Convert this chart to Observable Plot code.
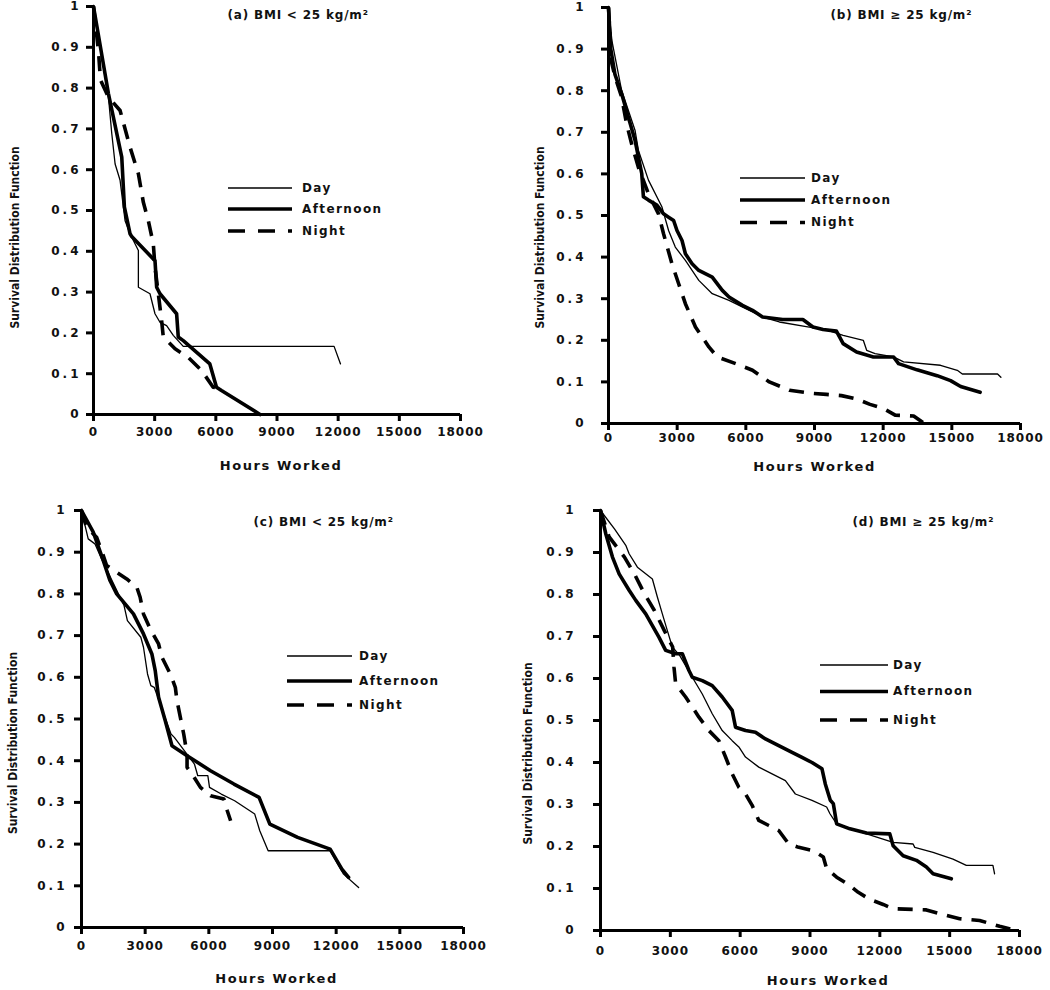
<!DOCTYPE html>
<html><head><meta charset="utf-8">
<script src="https://cdn.jsdelivr.net/npm/d3@7"></script>
<script src="https://cdn.jsdelivr.net/npm/@observablehq/plot@0.6"></script>
<style>
html,body{margin:0;padding:0;background:#fff;}
body{width:1050px;height:990px;position:relative;overflow:hidden;}
.panel{position:absolute;}
.panel svg [aria-label="x-axis tick label"] text{font-weight:bold;letter-spacing:1px;}
.panel svg [aria-label="y-axis tick label"] text{font-weight:bold;letter-spacing:3px;}
</style></head><body>
<div id="pa" class="panel"></div>
<div id="pb" class="panel"></div>
<div id="pc" class="panel"></div>
<div id="pd" class="panel"></div>
<script>
// ---------- data ----------
const shifts = ["Day", "Afternoon", "Night"];
const xTicks = [0, 3000, 6000, 9000, 12000, 15000, 18000];
const yTicks = [0, 0.1, 0.2, 0.3, 0.4, 0.5, 0.6, 0.7, 0.8, 0.9, 1];
const yTickLabels = ["0", "0.1", "0.2", "0.3", "0.4", "0.5", "0.6", "0.7", "0.8", "0.9", "1"];
const panelTitles = ["(a) BMI < 25 kg/m²", "(b) BMI ≥ 25 kg/m²", "(c) BMI < 25 kg/m²", "(d) BMI ≥ 25 kg/m²"];
const xLabel = "Hours Worked";
const yLabel = "Survival Distribution Function";

// [hours worked, survival]
const aDay = [[0,1],[734,0.778],[897,0.688],[1060,0.614],[1304,0.574],[1549,0.475],[1793,0.443],[2201,0.402],[2201,0.312],[2771,0.296],[3016,0.247],[3260,0.226],[3586,0.218],[3913,0.194],[4402,0.167],[11800,0.167],[12115,0.124]];
const aAfternoon = [[0,1],[734,0.786],[1386,0.631],[1516,0.508],[1793,0.443],[1875,0.436],[3016,0.377],[3097,0.312],[3260,0.296],[4076,0.247],[4157,0.19],[4402,0.181],[5706,0.124],[6032,0.067],[6276,0.059],[8168,0]];
const aNight = [[0,1],[245,0.89],[340,0.82],[734,0.778],[1304,0.745],[1793,0.655],[2201,0.59],[2445,0.52],[2690,0.475],[2934,0.418],[3016,0.361],[3179,0.296],[3342,0.23],[3423,0.19],[4000,0.161],[4646,0.14],[5297,0.108],[5868,0.067],[6211,0.064]];

const bDay = [[0,1],[150,0.92],[572,0.801],[1158,0.705],[1305,0.657],[1745,0.585],[2332,0.521],[2625,0.464],[2918,0.424],[3359,0.392],[3945,0.344],[4532,0.312],[5265,0.296],[5998,0.276],[6732,0.256],[7465,0.244],[8638,0.233],[9518,0.225],[10252,0.212],[11132,0.2],[11279,0.176],[11646,0.168],[12452,0.16],[12892,0.148],[14505,0.14],[15238,0.128],[15458,0.119],[16998,0.119],[17144,0.111]];
const bAfternoon = [[0,1],[100,0.9],[279,0.84],[572,0.793],[865,0.737],[1158,0.681],[1305,0.641],[1452,0.601],[1525,0.545],[1745,0.537],[2112,0.525],[2405,0.504],[2625,0.496],[2845,0.488],[2992,0.464],[3212,0.44],[3359,0.408],[3652,0.384],[3945,0.368],[4532,0.352],[4972,0.32],[5265,0.304],[5852,0.284],[6292,0.272],[6732,0.256],[7612,0.25],[8492,0.25],[8932,0.232],[9372,0.226],[9958,0.222],[10252,0.192],[10838,0.172],[11572,0.16],[12452,0.16],[12672,0.144],[13478,0.129],[14358,0.115],[14945,0.103],[15385,0.089],[16236,0.075]];
const bNight = [[0,1],[100,0.9],[147,0.865],[293,0.832],[572,0.785],[792,0.72],[1012,0.672],[1305,0.616],[1745,0.552],[2185,0.504],[2405,0.456],[2772,0.384],[3065,0.336],[3359,0.288],[3799,0.232],[4385,0.184],[4752,0.16],[5558,0.144],[6292,0.128],[7025,0.1],[7905,0.08],[8785,0.073],[9518,0.07],[10178,0.067],[10838,0.059],[11425,0.046],[12012,0.036],[12525,0.02],[13332,0.018],[13800,0]];

const cDay = [[0,1],[316,0.932],[632,0.92],[947,0.884],[1816,0.792],[2005,0.772],[2163,0.736],[2795,0.696],[2921,0.672],[3111,0.608],[3268,0.58],[3426,0.576],[4216,0.464],[4374,0.456],[5321,0.392],[5479,0.364],[5953,0.364],[6032,0.336],[6584,0.32],[7216,0.304],[8163,0.272],[8400,0.232],[8795,0.184],[11716,0.184],[12348,0.128],[13058,0.096]];
const cAfternoon = [[0,1],[553,0.948],[1027,0.88],[1342,0.832],[1658,0.8],[2447,0.752],[2921,0.704],[3316,0.656],[3474,0.616],[3632,0.552],[3947,0.496],[4263,0.436],[4974,0.412],[6079,0.376],[7184,0.344],[8368,0.312],[8874,0.248],[10184,0.216],[11716,0.188],[12269,0.14],[12585,0.12]];
const cNight = [[0,1],[237,0.96],[711,0.936],[1027,0.892],[1184,0.868],[1658,0.852],[2132,0.836],[2605,0.816],[2763,0.792],[2921,0.752],[3237,0.716],[3632,0.68],[3790,0.648],[4184,0.608],[4421,0.576],[4500,0.544],[4658,0.504],[4816,0.464],[4974,0.416],[4974,0.384],[5211,0.368],[5605,0.336],[6079,0.316],[6711,0.308],[6869,0.28],[7026,0.256]];

const dDay = [[0,1],[600,0.956],[1086,0.917],[1229,0.897],[1586,0.865],[2229,0.837],[2443,0.794],[2657,0.754],[2872,0.714],[3086,0.675],[3400,0.655],[3943,0.603],[4372,0.563],[4800,0.516],[5229,0.476],[5657,0.452],[5943,0.437],[6229,0.413],[6800,0.389],[7372,0.373],[7943,0.357],[8372,0.325],[9086,0.31],[9715,0.294],[9858,0.278],[10144,0.254],[11429,0.23],[12572,0.21],[13429,0.206],[13500,0.198],[14287,0.186],[15143,0.17],[15715,0.155],[16858,0.155],[16930,0.135]];
const dAfternoon = [[0,1],[229,0.944],[514,0.889],[800,0.849],[1229,0.81],[1515,0.786],[1943,0.754],[2515,0.698],[2800,0.667],[3229,0.659],[3515,0.659],[3800,0.619],[3943,0.603],[4372,0.595],[4800,0.583],[5229,0.556],[5657,0.524],[5800,0.484],[6229,0.476],[6657,0.472],[7086,0.456],[7657,0.44],[8229,0.424],[8657,0.412],[9086,0.4],[9515,0.385],[9657,0.349],[9872,0.31],[10001,0.302],[10144,0.254],[10715,0.242],[11429,0.232],[12429,0.23],[12572,0.202],[13001,0.178],[13572,0.167],[14001,0.151],[14287,0.135],[15072,0.123]];
const dNight = [[0,1],[371,0.937],[1029,0.889],[1457,0.849],[1886,0.802],[2315,0.762],[2743,0.714],[3100,0.675],[3157,0.627],[3229,0.587],[3657,0.556],[4229,0.508],[4657,0.476],[5086,0.452],[5372,0.413],[5657,0.373],[5943,0.341],[6229,0.325],[6515,0.298],[6800,0.262],[7229,0.25],[7657,0.238],[8086,0.206],[8515,0.198],[9144,0.19],[9572,0.175],[9715,0.147],[10144,0.127],[10715,0.107],[11072,0.091],[11572,0.074],[12143,0.062],[12572,0.052],[14001,0.049],[14572,0.04],[15429,0.028],[16286,0.024],[17144,0.01],[17858,0]];

const panelSeries = [
  [aDay, aAfternoon, aNight],
  [bDay, bAfternoon, bNight],
  [cDay, cAfternoon, cNight],
  [dDay, dAfternoon, dNight]
];

// ---------- layout / style ----------
const seriesStyle = {
  Day: {strokeWidth: 1.3, dash: null},
  Afternoon: {strokeWidth: 3.6, dash: null},
  Night: {strokeWidth: 3.6, dash: "15,10"}
};
const TICK = 7;
const layouts = [
  {id:"pa", left:0, top:0, width:520, height:480, ml:93, mr:60, mt:6, mb:66, xPad:6, yPad:5,
   title:{dx:134, dy:9}, ylab:{x:15, dy:27}, xlab:{dx:4, dy:51}, legend:{x0:228, x1:292, ys:[188,209,231], tx:302}},
  {id:"pb", left:520, top:0, width:530, height:480, ml:88, mr:30, mt:7, mb:57, xPad:3, yPad:15,
   title:{dx:222, dy:8}, ylab:{x:20, dy:22}, xlab:{dx:0, dy:43}, legend:{x0:220, x1:285, ys:[178,200,222.5], tx:291}},
  {id:"pc", left:0, top:490, width:520, height:500, ml:81, mr:57, mt:20, mb:63, xPad:7, yPad:7,
   title:{dx:172, dy:12}, ylab:{x:13, dy:24}, xlab:{dx:4, dy:51}, legend:{x0:287, x1:352, ys:[166,191,215], tx:359}},
  {id:"pd", left:520, top:490, width:530, height:500, ml:80, mr:31, mt:20, mb:60, xPad:9, yPad:17,
   title:{dx:252, dy:12}, ylab:{x:8, dy:33}, xlab:{dx:18, dy:50}, legend:{x0:300, x1:368, ys:[175,201.5,230], tx:373}}
];

function legendMark(lg) {
  return () => {
    const g = d3.create("svg:g");
    shifts.forEach((s, i) => {
      const st = seriesStyle[s];
      g.append("line")
        .attr("x1", lg.x0).attr("x2", lg.x1)
        .attr("y1", lg.ys[i]).attr("y2", lg.ys[i])
        .attr("stroke", "#000")
        .attr("stroke-width", st.strokeWidth)
        .attr("stroke-dasharray", st.dash ? "17,13" : null);
      g.append("text")
        .attr("x", lg.tx).attr("y", lg.ys[i])
        .attr("text-anchor", "start")
        .attr("dominant-baseline", "middle")
        .attr("font-family", "DejaVu Sans")
        .attr("font-size", 12)
        .attr("font-weight", "bold")
        .attr("letter-spacing", "1.4px")
        .attr("fill", "#111")
        .text(s);
    });
    return g.node();
  };
}

layouts.forEach((L, p) => {
  const lineMarks = shifts.map((s, i) => {
    const st = seriesStyle[s];
    return Plot.line(panelSeries[p][i], {
      x: d => d[0], y: d => d[1],
      stroke: "#000", strokeWidth: st.strokeWidth,
      strokeDasharray: st.dash || undefined,
      strokeLinejoin: "round", strokeLinecap: st.dash ? "butt" : "round"
    });
  });
  const chart = Plot.plot({
    width: L.width, height: L.height,
    marginLeft: L.ml, marginRight: L.mr, marginTop: L.mt, marginBottom: L.mb,
    style: {fontFamily: "DejaVu Sans", fontSize: "12px", background: "#fff", color: "#111", overflow: "visible"},
    x: {domain: [0, 18000]},
    y: {domain: [0, 1]},
    marks: [
      ...lineMarks,
      Plot.ruleX([0], {stroke: "#000", strokeWidth: 3}),
      Plot.ruleY([0], {stroke: "#000", strokeWidth: 3}),
      Plot.axisX({ticks: xTicks, tickFormat: d => String(d), tickSize: TICK, strokeWidth: 3, stroke: "#000", tickPadding: L.xPad, fontSize: 12, fontWeight: "bold", label: null}),
      Plot.axisY({ticks: yTicks, tickFormat: d => yTickLabels[yTicks.indexOf(d)], tickSize: TICK, strokeWidth: 3, stroke: "#000", tickPadding: L.yPad, fontSize: 12, fontWeight: "bold", label: null}),
      Plot.text([panelTitles[p]], {text: d => d, frameAnchor: "top-left", dx: L.title.dx, dy: L.title.dy, textAnchor: "start", lineAnchor: "middle", fontSize: 12, fontWeight: "bold", fill: "#111"}),
      Plot.text([xLabel], {text: d => d, frameAnchor: "bottom", dx: L.xlab.dx, dy: L.xlab.dy, textAnchor: "middle", lineAnchor: "middle", fontSize: 13, fontWeight: "bold", fill: "#111"}),
      Plot.text([yLabel], {text: d => d, frameAnchor: "left", rotate: -90, dx: L.ylab.x - L.ml, dy: L.ylab.dy, textAnchor: "middle", lineAnchor: "middle", fontSize: 12, fontWeight: "bold", fontFamily: "Liberation Sans Narrow, DejaVu Sans Condensed, sans-serif", fill: "#111"}),
      legendMark(L.legend)
    ]
  });
  const div = document.getElementById(L.id);
  div.style.left = L.left + "px";
  div.style.top = L.top + "px";
  div.appendChild(chart);
});
document.querySelectorAll(".panel svg text").forEach(t => {
  if (t.textContent === xLabel) t.setAttribute("letter-spacing", "1.6px");
  if (panelTitles.includes(t.textContent)) t.setAttribute("letter-spacing", "0.8px");
});
</script>
</body></html>
